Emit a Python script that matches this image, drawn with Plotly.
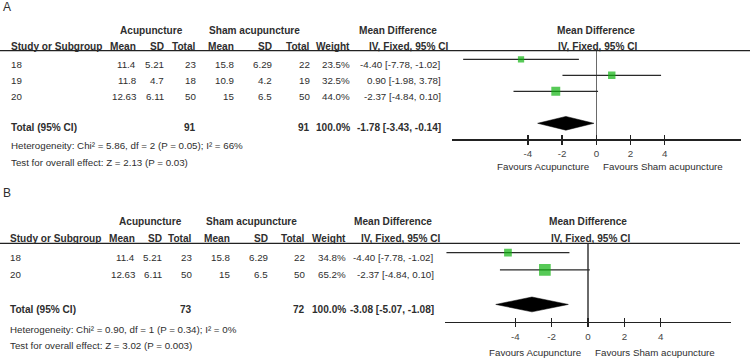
import plotly.graph_objects as go

# ---------------- data ----------------
# Panel A
studies_A = ["18", "19", "20"]
acu_mean_A = ["11.4", "11.8", "12.63"]
acu_sd_A = ["5.21", "4.7", "6.11"]
acu_n_A = [23, 18, 50]
sham_mean_A = ["15.8", "10.9", "15"]
sham_sd_A = ["6.29", "4.2", "6.5"]
sham_n_A = [22, 19, 50]
weight_A = [23.5, 32.5, 44.0]
md_A = [-4.40, 0.90, -2.37]
lo_A = [-7.78, -1.98, -4.84]
hi_A = [-1.02, 3.78, 0.10]
total_A = {"acu_n": 91, "sham_n": 91, "md": -1.78, "lo": -3.43, "hi": -0.14}
het_A = "Heterogeneity: Chi² = 5.86, df = 2 (P = 0.05); I² = 66%"
test_A = "Test for overall effect: Z = 2.13 (P = 0.03)"

# Panel B
studies_B = ["18", "20"]
acu_mean_B = ["11.4", "12.63"]
acu_sd_B = ["5.21", "6.11"]
acu_n_B = [23, 50]
sham_mean_B = ["15.8", "15"]
sham_sd_B = ["6.29", "6.5"]
sham_n_B = [22, 50]
weight_B = [34.8, 65.2]
md_B = [-4.40, -2.37]
lo_B = [-7.78, -4.84]
hi_B = [-1.02, 0.10]
total_B = {"acu_n": 73, "sham_n": 72, "md": -3.08, "lo": -5.07, "hi": -1.08}
het_B = "Heterogeneity: Chi² = 0.90, df = 1 (P = 0.34); I² = 0%"
test_B = "Test for overall effect: Z = 3.02 (P = 0.003)"

tick_vals = [-4, -2, 0, 2, 4]
tick_text = ["-4", "-2", "0", "2", "4"]

# ---------------- style ----------------
W, H = 750, 358
FONT = "Liberation Sans, Arial, sans-serif"
TXT = "#2e2e2e"
GREEN = "#10b310"
FS = 9.75
FSB = 10.1


def px(x):
    return x / W


def py(y):
    return 1 - y / H


annotations = []
shapes = []


def ann(text, x, y, anchor="left", bold=False, size=None, color=TXT):
    if size is None:
        size = FSB if bold else FS
    annotations.append(dict(
        text=f"<b>{text}</b>" if bold else text,
        x=px(x), y=py(y), xref="paper", yref="paper",
        xanchor=anchor, yanchor="middle", showarrow=False,
        font=dict(family=FONT, size=size, color=color)))


fig = go.Figure()


def panel(label, lay, studies, am, asd, an, sm, ssd, sn, wt, md, lo, hi, tot, het, test,
          xa, ya, xa2):
    col = lay["cols"]
    # titles
    ann(label, 1, lay["title_y"], size=12)
    ann("Acupuncture", lay["acu_c"], lay["h1"], "center", True)
    ann("Sham acupuncture", lay["sham_c"], lay["h1"], "center", True)
    ann("Mean Difference", lay["md_c"], lay["h1"], "center", True)
    ann("Mean Difference", lay["pmd_c"], lay["h1"], "center", True)
    ann("IV, Fixed, 95% CI", lay["pci_c"], lay["h2"], "center", True)
    ann("Study or Subgroup", lay["left"], lay["h2"], "left", True)
    heads = ["Mean", "SD", "Total", "Mean", "SD", "Total", "Weight"]
    for h, cx in zip(heads, col[:7]):
        ann(h, cx, lay["h2"], "right", True)
    ann("IV, Fixed, 95% CI", lay["ci_h"], lay["h2"], "center", True)
    # rows
    for i, st in enumerate(studies):
        y = lay["rows"][i]
        ann(st, lay["left"], y)
        vals = [am[i], asd[i], str(an[i]), sm[i], ssd[i], str(sn[i]),
                f"{wt[i]:.1f}%", f"{md[i]:.2f} [{lo[i]:.2f}, {hi[i]:.2f}]"]
        for v, cx in zip(vals, col):
            ann(v, cx, y, "right")
    ty = lay["total_y"]
    ann("Total (95% CI)", lay["left"], ty, "left", True)
    ann(str(tot["acu_n"]), col[2], ty, "right", True)
    ann(str(tot["sham_n"]), col[5], ty, "right", True)
    ann("100.0%", col[6], ty, "right", True)
    ann(f"{tot['md']:.2f} [{tot['lo']:.2f}, {tot['hi']:.2f}]", col[7], ty, "right", True)
    ann(het, lay["left"], lay["het_y"])
    ann(test, lay["left"], lay["test_y"])
    # header rule
    shapes.append(dict(type="line", xref="paper", yref="paper", x0=0, x1=px(lay["rule_x1"]),
                       y0=py(lay["rule_y"]), y1=py(lay["rule_y"]),
                       line=dict(color="#222222", width=1.3)))
    # Favours labels
    for txt, anchor, shift in [("Favours Acupuncture", "right", -5), ("Favours Sham acupuncture", "left", 5)]:
        annotations.append(dict(text=txt, x=0, xref=xa, y=py(lay["fav_y"]), yref="paper",
                                xanchor=anchor, yanchor="middle", xshift=shift, showarrow=False,
                                font=dict(family=FONT, size=FS, color=TXT)))

    n = len(studies)
    rows = list(range(n))
    # CI lines
    cx, cy = [], []
    for i in rows:
        cx += [lo[i], hi[i], None]
        cy += [i, i, None]
    fig.add_trace(go.Scatter(x=cx, y=cy, mode="lines", xaxis=xa, yaxis=ya,
                             line=dict(color="#2a2a2a", width=1.2), hoverinfo="skip",
                             showlegend=False))
    # point estimates
    fig.add_trace(go.Scatter(x=md, y=rows, mode="markers", xaxis=xa, yaxis=ya,
                             marker=dict(symbol="square", color=GREEN,
                                         size=[3.2 + 0.13 * w for w in wt],
                                         line=dict(width=0)),
                             showlegend=False))
    # diamond
    r = n + 1
    hh = 0.43
    fig.add_trace(go.Scatter(x=[tot["lo"], tot["md"], tot["hi"], tot["md"], tot["lo"]],
                             y=[r, r - hh, r, r + hh, r], mode="lines", fill="toself",
                             fillcolor="black", line=dict(color="black", width=0.5),
                             xaxis=xa, yaxis=ya, showlegend=False, hoverinfo="skip"))
    # invisible trace on overlay axis for inside ticks
    fig.add_trace(go.Scatter(x=md, y=rows, mode="markers", xaxis=xa2, yaxis=ya,
                             marker=dict(opacity=0), showlegend=False, hoverinfo="skip"))


layA = dict(title_y=7, h1=30.7, h2=46, rows=[64.3, 80.3, 96.7], total_y=127,
            het_y=145.7, test_y=162.3, left=9,
            cols=[138, 166, 197.7, 235.7, 274, 311.7, 351.7, 442.7],
            acu_c=151.7, sham_c=254.5, md_c=397.8, ci_h=408, pmd_c=595.5, pci_c=597.5,
            rule_y=50.7, rule_x1=750, fav_y=167)
layB = dict(title_y=193, h1=221, h2=238.3, rows=[257.3, 274.7], total_y=309,
            het_y=329, test_y=345.7, left=8.3,
            cols=[136.7, 164.3, 194.3, 232.3, 270, 307.3, 348.3, 435.7],
            acu_c=150, sham_c=251, md_c=392.5, ci_h=400, pmd_c=587.5, pci_c=590,
            rule_y=243.3, rule_x1=740, fav_y=352.3)

panel("A", layA, studies_A, acu_mean_A, acu_sd_A, acu_n_A, sham_mean_A, sham_sd_A, sham_n_A,
      weight_A, md_A, lo_A, hi_A, total_A, het_A, test_A, "x", "y", "x3")
panel("B", layB, studies_B, acu_mean_B, acu_sd_B, acu_n_B, sham_mean_B, sham_sd_B, sham_n_B,
      weight_B, md_B, lo_B, hi_B, total_B, het_B, test_B, "x2", "y2", "x4")


def xaxis(domain, rng, anchor):
    return dict(domain=domain, range=rng, anchor=anchor, showline=True, linecolor="#222222",
                linewidth=1.3, ticks="outside", ticklen=4, tickwidth=1.3, tickcolor="#222222",
                tickvals=tick_vals, ticktext=tick_text, showgrid=False,
                zeroline=True, zerolinecolor="#6a6a6a", zerolinewidth=1.2,
                tickfont=dict(family=FONT, size=FS, color="#444444"), ticklabelstandoff=1,
                fixedrange=True)


def xover(over, rng, anchor):
    return dict(overlaying=over, range=rng, anchor=anchor, showline=False, ticks="inside",
                ticklen=4, tickwidth=1.3, tickcolor="#222222", tickvals=tick_vals,
                showticklabels=False, showgrid=False, zeroline=False, side="bottom",
                fixedrange=True)


rA = [-8.45, 8.45]
rB = [-7.86, 7.86]
fig.update_layout(
    width=W, height=H, autosize=False,
    margin=dict(l=0, r=0, t=0, b=0),
    paper_bgcolor="white", plot_bgcolor="rgba(0,0,0,0)",
    xaxis=xaxis([451.7 / W, 741 / W], rA, "y"),
    yaxis=dict(domain=[py(139.3), py(50.7)], range=[5.0, -0.54], visible=False, fixedrange=True),
    xaxis3=xover("x", rA, "y"),
    xaxis2=xaxis([445 / W, 731 / W], rB, "y2"),
    yaxis2=dict(domain=[py(321.7), py(243.3)], range=[4.0, -0.54], visible=False, fixedrange=True),
    xaxis4=xover("x2", rB, "y2"),
    annotations=annotations, shapes=shapes,
    showlegend=False,
    hovermode=False,
)

fig.write_html("out.html", config={"displayModeBar": False, "staticPlot": True},
               post_script="document.body.style.margin='0';document.body.style.overflow='hidden';")
